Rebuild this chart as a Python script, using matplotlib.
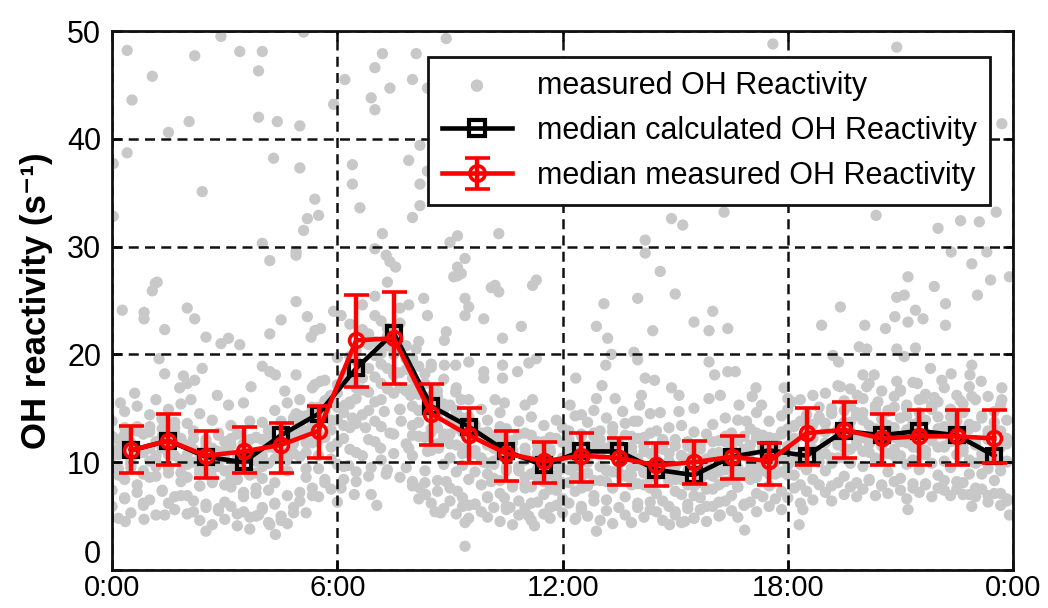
import numpy as np
import matplotlib
import matplotlib.pyplot as plt
import matplotlib.ticker as ticker

matplotlib.use('Agg')
plt.rcParams['font.family'] = ['Liberation Sans', 'DejaVu Sans']

# hour-of-day of the median points (bin centres)
hours = [0.5, 1.5, 2.5, 3.5, 4.5, 5.5, 6.5, 7.5, 8.5, 9.5, 10.5, 11.5,
         12.5, 13.5, 14.5, 15.5, 16.5, 17.5, 18.5, 19.5, 20.5, 21.5, 22.5, 23.5]

median_calc = [11.1, 12.0, 10.5, 10.0, 12.5, 14.5, 18.7, 22.0, 15.2, 13.3, 11.0, 9.7,
               11.0, 11.0, 9.3, 8.8, 10.5, 11.1, 10.6, 12.9, 12.5, 12.9, 12.5, 10.6]
median_meas = [11.1, 12.0, 10.6, 11.0, 11.6, 12.9, 21.3, 21.5, 14.5, 12.5, 10.8, 10.1,
               10.6, 10.4, 9.7, 10.0, 10.5, 10.1, 12.7, 13.0, 12.2, 12.4, 12.4, 12.2]
err_low = [9.0, 9.7, 8.5, 9.0, 9.0, 10.4, 17.0, 17.3, 11.6, 9.9, 8.3, 8.1,
           8.2, 7.9, 7.8, 8.0, 8.4, 7.9, 9.7, 10.4, 9.7, 9.7, 9.7, 9.9]
err_high = [13.4, 14.5, 12.9, 13.3, 13.6, 15.2, 25.5, 25.8, 17.3, 15.0, 12.9, 11.9,
            12.7, 12.2, 11.8, 12.0, 12.4, 11.8, 15.0, 15.6, 14.5, 14.8, 14.8, 14.8]

# 10-minute sampling slots of one day
sample_times = np.arange(0, 24, 1 / 6)

# measured OH reactivity, one list per day (144 ten-minute values)
day_1 = [11.2, 9.4, 12.6, 10.1, 13.3, 11.0, 12.8, 10.6, 14.1, 11.7, 13.2, 9.9,
         10.7, 12.9, 9.3, 11.4, 8.6, 10.9, 9.2, 11.6, 8.4, 10.3, 12.1, 9.0,
         10.6, 12.9, 11.3, 13.8, 10.2, 12.4, 13.5, 11.8, 14.9, 12.6, 15.7, 13.9,
         17.2, 14.6, 19.8, 16.9, 22.3, 18.7, 23.6, 20.1, 21.7, 18.4, 22.9, 19.6,
         16.8, 18.9, 14.7, 16.1, 13.2, 15.4, 12.6, 14.8, 11.3, 13.9, 10.8, 12.7,
         11.6, 9.8, 12.3, 10.2, 11.8, 9.4, 10.7, 8.9, 11.5, 9.6, 10.9, 8.5,
         10.4, 12.1, 9.6, 11.3, 10.0, 12.4, 11.1, 9.3, 12.0, 10.5, 8.8, 11.4,
         9.7, 11.5, 8.6, 10.2, 12.0, 9.1, 8.4, 10.6, 9.2, 7.8, 10.1, 8.9,
         10.8, 9.1, 11.9, 10.4, 8.7, 11.2, 10.1, 12.3, 9.4, 11.6, 10.0, 12.8,
         11.5, 13.4, 10.6, 12.9, 11.2, 14.0, 12.8, 14.6, 11.9, 13.7, 15.2, 12.4,
         13.9, 11.7, 14.8, 12.5, 13.4, 15.1, 12.2, 14.3, 11.6, 13.8, 12.7, 14.9,
         13.1, 11.4, 14.2, 12.6, 11.0, 13.5, 12.0, 10.3, 12.9, 11.1, 9.8, 11.7]
day_2 = [7.4, 8.9, 6.6, 9.5, 7.9, 6.2, 8.6, 10.1, 7.3, 9.0, 6.8, 8.2,
         6.9, 5.4, 7.8, 6.1, 8.4, 5.7, 6.3, 7.7, 5.2, 6.8, 4.9, 7.1,
         5.8, 7.4, 6.2, 4.6, 6.9, 5.3, 7.2, 8.6, 6.9, 9.4, 8.1, 10.3,
         11.8, 9.6, 13.2, 10.9, 14.4, 12.1, 15.6, 13.3, 16.8, 12.6, 14.9, 11.7,
         10.6, 12.4, 9.2, 11.1, 8.3, 9.8, 7.6, 9.1, 6.7, 8.4, 6.1, 7.9,
         6.8, 8.5, 7.1, 5.9, 7.7, 6.4, 7.9, 6.2, 8.6, 7.0, 5.8, 7.4,
         6.6, 8.1, 7.3, 5.6, 7.8, 6.9, 8.3, 6.5, 7.6, 9.0, 6.8, 7.9,
         6.2, 7.9, 5.6, 7.1, 6.4, 8.2, 5.4, 7.0, 6.1, 4.8, 6.7, 5.9,
         7.5, 6.3, 8.2, 6.9, 7.7, 6.0, 8.4, 7.1, 9.2, 7.8, 8.9, 7.3,
         8.8, 10.1, 7.9, 9.6, 8.4, 10.7, 9.2, 7.8, 10.4, 8.7, 9.9, 8.1,
         9.6, 8.3, 10.2, 7.9, 9.1, 10.6, 8.5, 9.8, 7.6, 9.3, 8.0, 9.9,
         8.8, 7.4, 9.5, 8.2, 7.0, 8.9, 7.6, 8.9, 6.9, 8.3, 7.1, 6.4]
day_3 = [13.8, 12.1, 14.7, 13.0, 15.2, 12.6, 14.4, 15.8, 13.1, 14.9, 12.7, 15.4,
         13.6, 12.2, 14.5, 11.8, 13.9, 12.5, 11.9, 13.4, 12.6, 11.2, 13.8, 12.3,
         13.7, 12.4, 14.8, 13.3, 15.5, 14.1, 15.8, 14.3, 16.9, 15.1, 17.6, 16.2,
         19.7, 17.4, 22.8, 20.3, 24.6, 21.9, 25.4, 23.1, 26.7, 22.4, 24.3, 20.8,
         19.6, 21.2, 17.3, 18.8, 16.1, 17.7, 15.3, 16.9, 14.1, 15.8, 13.5, 14.9,
         13.9, 12.4, 14.6, 13.1, 12.0, 13.8, 12.7, 14.2, 11.9, 13.4, 12.3, 13.9,
         13.2, 11.8, 14.3, 12.6, 13.7, 14.8, 12.9, 14.1, 13.3, 11.7, 13.6, 12.4,
         13.8, 12.3, 14.5, 12.9, 11.6, 13.2, 12.1, 13.4, 11.5, 12.8, 11.2, 12.6,
         13.5, 12.0, 14.1, 12.7, 13.9, 12.4, 13.1, 14.6, 12.5, 13.8, 12.2, 14.3,
         14.9, 13.3, 15.8, 14.4, 16.2, 15.1, 16.4, 15.0, 17.1, 15.7, 16.8, 14.6,
         15.9, 17.3, 15.2, 16.6, 14.8, 16.1, 16.7, 15.3, 17.4, 15.8, 16.3, 15.0,
         15.6, 16.9, 14.9, 16.2, 15.4, 17.0, 15.8, 14.3, 16.1, 14.7, 15.3, 13.9]
day_4 = [10.6, 8.8, 11.7, 9.9, 10.8, 9.2, 11.3, 9.6, 12.4, 10.7, 11.9, 10.2,
         9.8, 11.2, 8.9, 10.5, 9.4, 11.0, 10.4, 8.6, 9.9, 11.3, 8.9, 10.1,
         9.6, 11.4, 10.3, 12.2, 10.9, 11.7, 12.8, 10.9, 13.5, 12.1, 14.2, 13.0,
         15.1, 13.4, 17.6, 15.9, 18.8, 16.5, 19.9, 17.3, 20.8, 18.1, 16.9, 18.6,
         15.2, 13.7, 14.9, 12.8, 14.1, 12.3, 11.7, 13.2, 10.8, 12.5, 11.1, 10.4,
         9.9, 11.3, 10.6, 9.2, 10.8, 9.6, 10.2, 8.9, 10.9, 9.5, 11.2, 9.8,
         9.4, 10.9, 10.1, 8.7, 10.5, 11.4, 10.7, 9.2, 11.1, 9.9, 10.6, 8.8,
         10.3, 9.0, 10.8, 9.6, 11.2, 10.1, 9.6, 8.4, 10.3, 9.1, 8.6, 10.0,
         9.3, 10.7, 9.8, 11.1, 9.5, 10.6, 10.9, 9.6, 11.4, 10.2, 11.7, 10.5,
         10.1, 11.6, 9.8, 11.0, 12.2, 10.7, 11.8, 10.4, 12.6, 11.3, 12.9, 11.6,
         12.3, 10.9, 13.1, 11.8, 12.6, 11.2, 11.9, 13.0, 11.4, 12.7, 11.1, 12.4,
         12.8, 11.5, 13.3, 12.0, 11.7, 13.1, 11.6, 10.2, 12.1, 10.9, 11.4, 10.0]
day_5 = [9.3, 10.7, 8.4, 9.8, 11.1, 8.9, 10.1, 8.7, 11.3, 9.5, 10.6, 9.0,
         8.6, 10.0, 7.8, 9.2, 8.1, 9.6, 7.9, 9.3, 8.4, 7.2, 8.8, 7.6,
         8.5, 9.9, 8.1, 10.4, 9.2, 10.8, 10.5, 9.4, 11.8, 10.6, 12.3, 11.4,
         13.9, 12.2, 15.4, 13.6, 16.7, 14.8, 17.9, 15.8, 18.7, 16.4, 14.9, 16.6,
         13.4, 14.8, 12.3, 13.1, 11.7, 12.6, 10.4, 11.6, 9.7, 10.9, 9.1, 10.3,
         8.9, 10.1, 8.3, 9.5, 7.9, 9.2, 8.6, 7.7, 9.4, 8.2, 7.5, 8.8,
         8.1, 9.3, 8.6, 7.6, 9.0, 8.3, 9.6, 8.2, 9.1, 10.2, 8.7, 9.4,
         8.0, 9.2, 7.6, 8.8, 9.5, 8.3, 7.3, 8.6, 7.9, 6.9, 8.1, 7.5,
         8.7, 7.9, 9.3, 8.4, 7.7, 9.0, 9.4, 8.6, 9.9, 8.9, 10.3, 9.1,
         9.7, 8.8, 10.6, 9.3, 10.9, 10.0, 10.8, 9.9, 11.6, 10.4, 11.2, 12.0,
         11.0, 12.1, 10.4, 11.5, 10.8, 12.3, 10.6, 11.8, 10.2, 11.3, 10.7, 12.0,
         11.4, 10.1, 11.9, 10.7, 11.3, 10.2, 9.9, 10.8, 9.4, 10.3, 9.2, 10.1]
day_6 = [5.9, 4.8, 6.7, 5.3, 7.2, 6.0, 6.5, 5.1, 7.4, 6.2, 5.6, 6.9,
         5.2, 6.4, 4.6, 5.8, 4.2, 5.5, 4.7, 5.9, 4.1, 5.4, 3.8, 5.0,
         5.6, 4.4, 6.1, 5.0, 4.3, 5.8, 6.4, 5.3, 7.6, 6.8, 8.4, 7.5,
         9.8, 8.4, 11.2, 9.1, 10.6, 8.7, 11.9, 10.2, 9.3, 10.8, 8.6, 9.5,
         7.8, 6.6, 8.1, 6.2, 7.3, 5.7, 6.4, 5.2, 5.9, 4.8, 6.1, 5.4,
         4.9, 5.8, 4.5, 5.6, 4.2, 5.1, 5.7, 4.6, 6.3, 5.2, 4.8, 6.0,
         5.3, 6.2, 4.7, 5.9, 5.0, 6.4, 4.6, 5.5, 4.3, 5.8, 5.1, 4.4,
         5.8, 4.9, 6.3, 5.4, 4.6, 5.9, 5.1, 4.4, 5.7, 4.8, 5.6, 4.5,
         5.9, 5.0, 6.4, 5.5, 4.9, 6.1, 6.3, 5.4, 6.8, 5.9, 6.6, 5.6,
         6.7, 7.6, 6.2, 7.3, 6.5, 7.9, 7.2, 6.4, 8.1, 7.0, 7.7, 6.8,
         7.5, 8.4, 6.9, 7.8, 7.1, 8.2, 7.4, 6.6, 8.0, 7.2, 7.9, 6.8,
         7.6, 8.3, 6.9, 7.5, 8.1, 7.0, 6.8, 7.5, 6.3, 7.1, 6.0, 6.6]
day_7 = [12.4, 11.1, 13.2, 11.8, 12.9, 10.9, 13.3, 11.9, 14.0, 12.6, 13.7, 12.2,
         11.6, 12.8, 10.8, 12.1, 11.3, 12.7, 11.0, 12.2, 10.4, 11.7, 10.9, 12.3,
         12.1, 13.0, 11.5, 13.6, 12.4, 13.9, 14.3, 12.9, 15.1, 13.8, 14.7, 15.6,
         16.4, 18.1, 15.6, 19.4, 17.8, 20.9, 21.2, 19.1, 22.4, 20.0, 18.3, 19.6,
         17.8, 16.3, 18.2, 15.4, 16.6, 14.9, 13.9, 14.7, 12.8, 14.2, 13.1, 12.4,
         12.8, 11.5, 13.3, 12.1, 11.1, 12.6, 11.3, 12.5, 10.7, 11.9, 11.0, 12.2,
         11.8, 12.9, 11.2, 12.4, 11.5, 12.7, 12.1, 11.3, 12.8, 11.6, 12.5, 11.0,
         12.2, 11.0, 12.7, 11.4, 12.1, 10.8, 11.5, 10.6, 11.9, 10.9, 11.6, 10.3,
         11.9, 10.9, 12.4, 11.4, 12.0, 11.1, 11.6, 12.7, 11.0, 12.3, 11.4, 12.6,
         13.1, 12.2, 13.8, 12.7, 13.5, 14.2, 13.6, 14.5, 13.0, 14.8, 13.7, 14.3,
         14.6, 13.4, 15.2, 14.0, 14.7, 13.2, 14.1, 15.0, 13.5, 14.6, 13.9, 15.3,
         14.2, 13.3, 14.9, 13.8, 14.6, 13.5, 13.3, 14.1, 12.6, 13.7, 12.9, 12.2]

# sparse readings away from the main band (hour, value)
sparse_hours = [0.4, 2.2, 3.4, 4.0, 2.9, 5.1, 1.07, 3.9, 0.53, 2.05, 1.5, 3.9, 4.4, 5.0, 5.9,
                0.4, 0.03, 4.3, 5.0, 2.4, 5.4, 5.5, 5.2, 5.1, 0.03, 4.0, 4.9, 4.2, 1.15, 4.9,
                1.2, 1.07, 0.27, 0.85, 0.85, 2.0, 2.2, 1.4, 4.9, 5.2, 4.5, 4.2, 5.4, 5.55, 5.3,
                2.5, 3.1, 2.9, 3.4, 5.9, 1.25, 1.4, 1.9, 2.0, 2.2, 2.4, 4.0, 4.2, 4.35, 4.9,
                5.4, 5.55, 0.22, 2.1, 3.1, 3.5, 4.9, 2.5, 4.35, 0.35, 0.85, 1.4, 3.9, 4.2,
                0.6, 1.8, 2.8, 3.7, 4.6, 5.8,
                7.2, 8.1, 8.9, 7.0, 8.0, 7.4, 8.4, 6.2, 6.9, 7.0, 8.2, 7.9, 6.4, 6.4, 8.4,
                8.2, 6.6, 8.2, 8.0, 7.2, 9.2, 10.3, 7.0, 7.3, 7.4, 9.0, 9.4, 9.2, 10.2, 11.3,
                7.55, 9.2, 9.3, 9.1, 10.1, 10.3, 11.2, 8.3, 8.4, 9.4, 9.5, 9.4, 9.9, 7.9,
                10.9, 10.4, 8.9, 8.85, 6.1, 8.1, 8.5, 8.85, 9.15, 9.5, 9.9, 9.9, 10.4, 10.4,
                10.8, 11.1, 11.3, 7.95, 9.15, 9.3, 10.2, 10.45, 11.0, 11.2, 6.2, 6.4, 6.75,
                7.25, 7.0, 7.4, 7.7, 8.0, 7.9, 8.4, 8.7, 7.15, 6.9, 7.3, 6.3, 6.5, 6.45,
                6.9, 7.05, 8.0, 8.2, 8.35, 8.6, 8.75, 8.9, 9.2, 9.5, 9.4, 9.4, 9.9, 10.1,
                10.0, 10.45, 10.6, 11.0, 11.1, 11.25, 11.8, 11.7, 6.0, 6.1,
                14.9, 15.2, 16.3, 14.2, 14.2, 14.6, 15.0, 14.0, 13.1, 12.9, 13.2, 14.4, 15.5,
                15.9, 16.0, 16.4, 13.3, 13.15, 13.9, 14.0, 12.35, 14.2, 14.45, 14.9, 15.1,
                15.9, 16.05, 16.4, 16.6, 13.05, 12.9, 13.4, 14.1, 14.05, 16.2, 15.9, 17.15,
                17.05, 17.3, 17.9, 18.0, 14.6, 15.1, 15.5, 12.2, 12.5, 13.9, 13.6, 16.7,
                16.9, 12.35, 12.9, 14.85, 15.25, 16.85, 16.2, 17.6,
                20.35, 22.0, 22.6, 23.1, 23.55, 22.35, 23.3, 22.9, 21.2, 21.9, 22.2, 22.2,
                23.05, 23.4, 23.9, 19.4, 18.9, 20.05, 20.6, 20.9, 21.1, 20.85, 21.4, 21.6,
                21.2, 21.4, 21.1, 20.9, 19.9, 20.1, 19.2, 19.35, 21.8, 22.1, 22.35, 22.9,
                22.85, 23.15, 23.7, 23.7, 20.0, 20.1, 20.3, 20.9, 21.0, 21.45, 19.4, 19.85,
                20.4, 18.1, 21.6, 21.9, 22.6, 22.9, 18.4, 21.2, 22.9, 23.9, 18.3, 23.7, 20.9]
sparse_values = [48.2, 47.7, 48.1, 48.1, 49.5, 49.9, 45.8, 46.3, 43.6, 41.6, 40.6, 42.0, 41.6, 41.2, 43.2,
                 38.7, 37.7, 38.2, 37.3, 35.1, 34.4, 32.9, 32.6, 31.5, 32.8, 30.3, 29.5, 28.7, 26.6, 29.2,
                 26.7, 25.9, 24.1, 23.9, 23.3, 24.3, 23.3, 22.3, 24.9, 23.5, 23.2, 21.9, 22.2, 22.4, 21.6,
                 21.6, 21.5, 21.0, 20.9, 24.0, 19.6, 18.2, 18.0, 17.3, 17.6, 18.7, 18.9, 18.4, 18.1, 18.1,
                 17.2, 17.5, 15.5, 15.8, 15.3, 15.5, 14.5, 3.6, 3.3, 4.5, 4.7, 5.1, 5.1, 4.2,
                 16.4, 16.9, 16.2, 17.0, 16.6, 16.1,
                 47.9, 47.9, 49.3, 46.6, 45.5, 44.7, 44.7, 45.5, 43.8, 42.7, 39.4, 38.0, 37.6, 35.8, 37.0,
                 35.8, 33.6, 33.8, 32.7, 31.2, 31.0, 31.2, 29.8, 29.2, 28.6, 30.4, 28.9, 27.3, 26.4, 26.9,
                 28.1, 28.1, 27.5, 27.2, 26.2, 25.8, 26.4, 25.2, 23.6, 25.2, 24.4, 23.6, 23.3, 24.6,
                 22.6, 21.5, 22.1, 21.3, 23.6, 20.5, 19.1, 19.0, 19.0, 19.3, 18.4, 17.8, 19.0, 17.8,
                 18.4, 19.2, 19.6, 16.2, 16.5, 15.8, 15.8, 15.5, 15.3, 15.8, 15.3, 14.1, 13.2,
                 14.7, 13.8, 12.7, 13.8, 12.5, 11.3, 11.0, 11.3, 11.3, 9.5, 8.9, 9.7, 8.2, 7.0,
                 7.0, 6.0, 8.2, 7.6, 7.0, 5.4, 5.3, 8.2, 7.3, 6.0, 4.4, 2.2, 10.0, 8.2,
                 6.7, 6.7, 5.8, 7.6, 5.0, 4.1, 7.6, 8.8, 6.3, 7.6,
                 32.6, 32.0, 33.2, 30.6, 29.4, 27.7, 25.6, 25.2, 24.7, 22.6, 21.5, 22.2, 23.0,
                 22.2, 24.0, 22.4, 20.0, 19.0, 20.2, 19.5, 17.8, 17.8, 17.6, 16.9, 16.2,
                 19.3, 18.1, 18.4, 18.4, 17.1, 15.9, 15.9, 16.2, 15.3, 16.2, 15.9, 16.9,
                 16.1, 15.3, 16.9, 15.9, 14.6, 14.7, 15.0, 15.3, 14.4, 13.8, 14.7, 15.3,
                 13.8, 4.8, 3.6, 4.2, 4.5, 3.7, 5.1, 48.8,
                 32.9, 31.7, 32.4, 32.3, 33.2, 29.5, 29.5, 28.4, 27.2, 26.3, 24.7, 22.7,
                 25.5, 26.9, 27.2, 24.4, 22.7, 22.7, 22.4, 25.3, 25.5, 23.5, 24.1, 23.3,
                 23.0, 20.6, 19.8, 20.5, 20.7, 20.5, 19.9, 19.3, 18.7, 17.6, 18.2, 19.0,
                 18.1, 17.5, 16.9, 15.8, 18.1, 17.0, 18.1, 17.5, 16.6, 17.3, 17.0, 16.2,
                 15.6, 15.6, 15.9, 16.0, 15.7, 16.1, 5.6, 5.6, 5.9, 5.1, 4.2, 41.4, 48.5]

tick_hours = [0, 6, 12, 18, 24]
tick_labels = ['0:00', '6:00', '12:00', '18:00', '0:00']

fig = plt.figure(figsize=(10.48, 6.08), dpi=100)
ax = fig.add_axes([0.107, 0.0625, 0.8597, 0.8865])

gray = '#c8c8c8'
dot_size = 66
all_days = [day_1, day_2, day_3, day_4, day_5, day_6, day_7]
for i, day in enumerate(all_days):
    ax.scatter(sample_times, day, s=dot_size, color=gray, edgecolors='none', zorder=1,
               label='measured OH Reactivity' if i == 0 else None)
ax.scatter(sparse_hours, sparse_values, s=dot_size, color=gray, edgecolors='none', zorder=1)

ax.plot(hours, median_calc, color='black', linewidth=3.3, marker='s', markersize=10,
        markerfacecolor='none', markeredgecolor='black', markeredgewidth=3, zorder=3,
        label='median calculated OH Reactivity')

meas = np.array(median_meas)
yerr = [meas - np.array(err_low), np.array(err_high) - meas]
ax.errorbar(hours, median_meas, yerr=yerr, color='red', linewidth=3.3, marker='o', markersize=10,
            markerfacecolor='none', markeredgecolor='red', markeredgewidth=2.6,
            ecolor='red', elinewidth=3.2, capsize=9, capthick=3.2, zorder=4,
            label='median measured OH Reactivity')

ax.set_xlim(0, 24)
ax.set_ylim(0, 50)
ax.set_xticks(tick_hours)
ax.set_xticklabels(tick_labels)
ax.yaxis.set_major_locator(ticker.FixedLocator([0, 10, 20, 30, 40, 50]))

ax.tick_params(direction='in', length=7, width=1.8, top=True, right=True,
               labelsize=22, pad=8, colors='black')
ax.tick_params(axis='x', labelsize=21, pad=3)
for sp in ax.spines.values():
    sp.set_linewidth(2)
    sp.set_color('#111111')

# the "0" label sits just above the time labels, as in the original
ax.yaxis.get_major_ticks()[0].label1.set_verticalalignment('bottom')

ax.set_axisbelow('line')
ax.grid(True, color='#111111', linestyle=(0, (4, 2.5)), linewidth=1.8)

ax.set_ylabel('OH reactivity (s\u207b\u00b9)', fontsize=25, fontweight='bold', labelpad=10)

h, l = ax.get_legend_handles_labels()
leg = ax.legend(h, l, loc='upper right', bbox_to_anchor=(0.9745, 0.952), borderaxespad=0,
                fontsize=22, frameon=True, fancybox=False, framealpha=1, edgecolor='#111111',
                handlelength=2.3, handletextpad=0.8, labelspacing=0.5, borderpad=0.45,
                scatterpoints=1, markerscale=1.1)
leg.get_frame().set_linewidth(2)
leg.set_zorder(10)

fig.savefig('out.png', dpi=100)
